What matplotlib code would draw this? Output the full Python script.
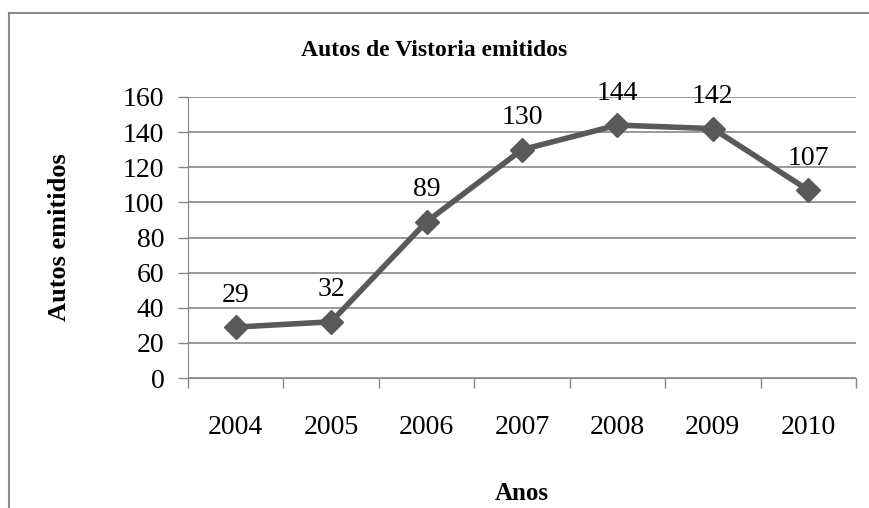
import matplotlib.pyplot as plt
import numpy as np
from matplotlib.lines import Line2D

years = ["2004", "2005", "2006", "2007", "2008", "2009", "2010"]
autos = [29, 32, 89, 130, 144, 142, 107]

plt.rcParams["font.family"] = ["Liberation Serif", "DejaVu Serif"]

LINE_COLOR = "#595959"
GRID_COLOR = "#878787"

fig = plt.figure(figsize=(8.69, 5.08), dpi=100)
ax = fig.add_axes([188 / 869, 1 - 378 / 508, (856 - 188) / 869, (378 - 97) / 508])

x = np.arange(len(years))
ax.plot(x, autos, color=LINE_COLOR, linewidth=4, marker="D", markersize=12,
        markerfacecolor=LINE_COLOR, markeredgecolor=LINE_COLOR, zorder=3)
for xi, v in zip(x, autos):
    ax.annotate(str(v), (xi, v), xytext=(0, 14), textcoords="offset points",
                ha="center", va="bottom", fontsize=20)

ax.set_xlim(-0.5, len(years) - 0.5)
ax.set_ylim(0, 160)
ax.set_yticks(np.arange(0, 161, 20))
ax.set_xticks(x)
ax.set_xticklabels(years, fontsize=20)
ax.set_xticks(np.arange(-0.5, len(years), 1), minor=True)
ax.tick_params(axis="x", which="major", length=0, pad=27)
ax.tick_params(axis="x", which="minor", length=7, width=1, color=GRID_COLOR)
ax.tick_params(axis="y", labelsize=20, length=7, width=1, color=GRID_COLOR, pad=10)

ax.grid(axis="y", color=GRID_COLOR, linewidth=1.2)
ax.set_axisbelow(True)
ax.spines["top"].set_visible(False)
ax.spines["left"].set_color(GRID_COLOR)
ax.spines["bottom"].set_color(GRID_COLOR)
ax.spines["right"].set_color(GRID_COLOR)
ax.spines["right"].set_bounds(0, 0)

ax.set_ylabel("Autos emitidos", fontsize=19, fontweight="bold", labelpad=37)
ax.set_xlabel("Anos", fontsize=18, fontweight="bold", labelpad=30)
fig.text(434 / 869, 1 - 50 / 508, "Autos de Vistoria emitidos", ha="center", va="center",
         fontsize=17, fontweight="bold")

# outer chart border (top and left visible)
fig.add_artist(Line2D([8.5 / 869, 8.5 / 869], [0, 1 - 13 / 508], transform=fig.transFigure,
                      color="#8c8c8c", linewidth=1.5))
fig.add_artist(Line2D([8.5 / 869, 1], [1 - 13 / 508, 1 - 13 / 508], transform=fig.transFigure,
                      color="#8c8c8c", linewidth=1.5))

fig.savefig("out.png", dpi=100)
